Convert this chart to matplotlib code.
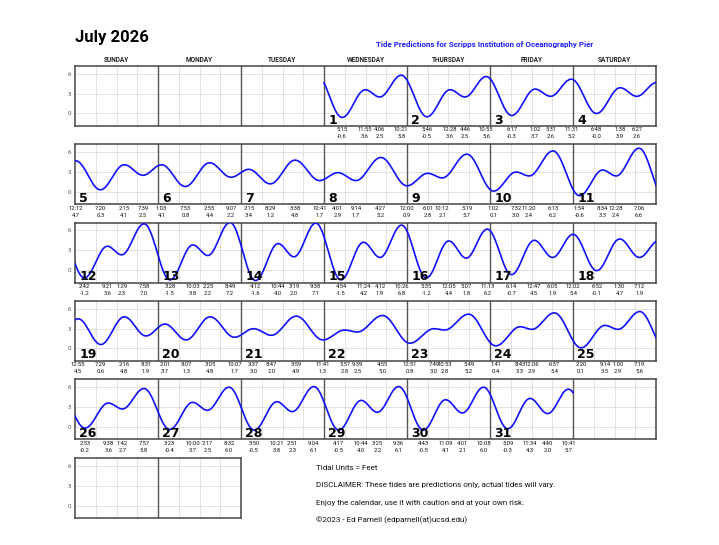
import numpy as np
import matplotlib
matplotlib.use("Agg")
import matplotlib.pyplot as plt
import matplotlib.transforms as mtransforms

# ---------------- data ----------------
month_title = "July 2026"
subtitle = "Tide Predictions for Scripps Institution of Oceanography Pier"
weekday_names = ["SUNDAY", "MONDAY", "TUESDAY", "WEDNESDAY", "THURSDAY", "FRIDAY", "SATURDAY"]
first_col = 3          # July 1 2026 is a Wednesday
n_days = 31
y_ticks = [0, 3, 6]

tide_day = [1, 1, 1, 1, 2, 2, 2, 2, 3, 3, 3, 3, 4, 4, 4,
            5, 5, 5, 5, 6, 6, 6, 6, 7, 7, 7, 7, 8, 8, 8,
            9, 9, 9, 9, 10, 10, 10, 10, 11, 11, 11, 11,
            12, 12, 12, 12, 13, 13, 13, 13, 14, 14, 14, 14,
            15, 15, 15, 15, 16, 16, 16, 16, 17, 17, 17,
            18, 18, 18, 18, 19, 19, 19, 19, 20, 20, 20, 20,
            21, 21, 21, 21, 22, 22, 22,
            23, 23, 23, 23, 24, 24, 24, 24, 25, 25, 25, 25,
            26, 26, 26, 26, 27, 27, 27, 27, 28, 28, 28, 28,
            29, 29, 29, 29, 30, 30, 30, 30, 31, 31, 31, 31]
tide_clock = ["05:15", "11:55", "16:06", "22:21", "05:46", "12:28", "16:46", "22:55",
              "06:17", "13:02", "17:31", "23:31", "06:48", "13:38", "18:27",
              "00:12", "07:20", "14:15", "19:39", "01:03", "07:53", "14:55", "21:07",
              "02:15", "08:29", "15:38", "22:41", "04:01", "09:14", "16:27",
              "00:00", "06:01", "10:12", "17:19", "01:02", "07:32", "11:20", "18:13",
              "01:54", "08:34", "12:28", "19:06",
              "02:42", "09:21", "13:29", "19:58", "03:28", "10:03", "14:25", "20:49",
              "04:12", "10:44", "15:19", "21:38",
              "04:54", "11:24", "16:12", "22:26", "05:35", "12:05", "17:07", "23:13",
              "06:14", "12:47", "18:05",
              "00:02", "06:52", "13:30", "19:12", "00:55", "07:29", "14:16", "20:31",
              "02:01", "08:07", "15:05", "22:07",
              "03:37", "08:47", "15:59", "23:41", "05:57", "09:39", "16:55",
              "00:51", "07:49", "10:53", "17:49", "01:41", "08:43", "12:06", "18:37",
              "02:20", "09:14", "13:00", "19:19",
              "02:53", "09:38", "13:42", "19:57", "03:23", "10:00", "14:17", "20:32",
              "03:50", "10:21", "14:51", "21:04",
              "04:17", "10:44", "15:25", "21:36", "04:43", "11:09", "16:01", "22:08",
              "05:09", "11:34", "16:40", "22:41"]
tide_height = [-0.6, 3.6, 2.5, 5.8, -0.5, 3.6, 2.5, 5.6, -0.3, 3.7, 2.6, 5.2, -0.0, 3.9, 2.6,
               4.7, 0.3, 4.1, 2.5, 4.1, 0.8, 4.4, 2.2, 3.4, 1.2, 4.8, 1.7, 2.9, 1.7, 5.2,
               0.9, 2.8, 2.1, 5.7, 0.1, 3.0, 2.4, 6.2, -0.6, 3.3, 2.4, 6.6,
               -1.2, 3.6, 2.3, 7.0, -1.5, 3.8, 2.2, 7.2, -1.6, 4.0, 2.0, 7.1,
               -1.5, 4.2, 1.9, 6.8, -1.2, 4.4, 1.8, 6.2, -0.7, 4.5, 1.9,
               5.4, -0.1, 4.7, 1.9, 4.5, 0.6, 4.8, 1.9, 3.7, 1.3, 4.8, 1.7,
               3.0, 2.0, 4.9, 1.3, 2.8, 2.5, 5.0,
               0.8, 3.0, 2.8, 5.2, 0.4, 3.3, 2.9, 5.4, 0.1, 3.5, 2.9, 5.6,
               -0.2, 3.6, 2.7, 5.8, -0.4, 3.7, 2.5, 6.0, -0.5, 3.8, 2.3, 6.1,
               -0.5, 4.0, 2.2, 6.1, -0.5, 4.1, 2.1, 6.0, -0.3, 4.3, 2.0, 5.7]

# extremes just outside the month (estimated from the curve ends)
edge_day = [0, 32]
edge_clock = ["21:48", "05:35"]
edge_height = [6.0, -0.1]

footer_lines = ["Tidal Units = Feet",
                "DISCLAIMER: These tides are predictions only, actual tides will vary.",
                "Enjoy the calendar, use it with caution and at your own risk.",
                "\u00a92023 - Ed Parnell (edparnell(at)ucsd.edu)"]

# ---------------- helpers ----------------
def to_hours(day, clock):
    hh, mm = clock.split(":")
    return (day - 1) * 24 + int(hh) + int(mm) / 60.0

def label_time(clock):
    hh, mm = clock.split(":")
    h = int(hh) % 12
    if h == 0:
        h = 12
    return f"{h}:{mm}"

ext_t = np.array([to_hours(edge_day[0], edge_clock[0])] +
                 [to_hours(d, c) for d, c in zip(tide_day, tide_clock)] +
                 [to_hours(edge_day[1], edge_clock[1])])
ext_h = np.array([edge_height[0]] + list(tide_height) + [edge_height[1]])
order = np.argsort(ext_t)
ext_t = ext_t[order]
ext_h = ext_h[order]

# cosine curve between successive high/low waters
t = np.linspace(0, n_days * 24, 6000)
idx = np.clip(np.searchsorted(ext_t, t) - 1, 0, len(ext_t) - 2)
t0, t1 = ext_t[idx], ext_t[idx + 1]
h0, h1 = ext_h[idx], ext_h[idx + 1]
frac = (t - t0) / (t1 - t0)
curve = h0 + (h1 - h0) * (1 - np.cos(np.pi * frac)) / 2

# ---------------- layout ----------------
W, H = 719, 545
fig = plt.figure(figsize=(W / 100, H / 100), dpi=100)
FONT = "Roboto"
plt.rcParams['font.family'] = [FONT, 'DejaVu Sans']

ax_left = 75
day_w = 83.0
ax_h = 60
row_tops = [66, 144.3, 222.5, 301, 379.3, 458.3]
ylim = (-1.9, 7.2)

fig.text(ax_left / W, 1 - 37.5 / H, month_title, fontsize=12.0, fontweight='bold',
         ha='left', va='center')
fig.text(485 / W, 1 - 44.5 / H, subtitle, fontsize=5.8, fontweight='bold',
         color='#1f1fff', ha='center', va='center')
for c, name in enumerate(weekday_names):
    fig.text((ax_left + day_w * (c + 0.5)) / W, 1 - 60 / H, name, fontsize=4.7,
             fontweight='bold', ha='center', va='center', color='#222222')

n_rows = 6
for r in range(n_rows):
    ncols = 7 if r < 5 else 2
    top = row_tops[r]
    ax = fig.add_axes([ax_left / W, 1 - (top + ax_h) / H, day_w * ncols / W, ax_h / H])
    span = 24 * ncols
    ax.set_xlim(0, span)
    ax.set_ylim(*ylim)
    for x in range(6, span, 6):
        if x % 24 == 0:
            ax.axvline(x, color='#555555', lw=1.0, zorder=2)
        else:
            ax.axvline(x, color='#dddddd', lw=0.6, zorder=1)
    for y in y_ticks:
        ax.axhline(y, color='#dddddd', lw=0.6, zorder=1)
    ax.set_xticks([])
    ax.set_yticks(y_ticks)
    ax.set_yticklabels([str(v) for v in y_ticks], fontsize=4.5, color='#555555')
    ax.tick_params(axis='y', length=0, pad=3)
    for s in ax.spines.values():
        s.set_color('#444444')
        s.set_linewidth(1.1)

    if r >= 5:
        continue
    offset = 24 * first_col - 168 * r
    ax.plot(t + offset, curve, color='#1010ff', lw=1.2, zorder=3, clip_on=True)

    trans = mtransforms.blended_transform_factory(ax.transData, ax.transAxes)
    # day numbers
    for c in range(7):
        d = 7 * r + c - first_col + 1
        if 1 <= d <= n_days:
            ax.annotate(str(d), xy=(24 * c, 0), xycoords=trans, xytext=(3.0, 1.8),
                        textcoords='offset points', fontsize=9.0, fontweight='bold',
                        family=['DejaVu Sans'], ha='left', va='baseline', zorder=5)
    # tide labels
    for d, c_, h in zip(tide_day, tide_clock, tide_height):
        x = to_hours(d, c_) + offset
        if 0 <= x <= 168:
            ax.annotate(label_time(c_), xy=(x, 0), xycoords=trans, xytext=(0, -2.8),
                        textcoords='offset points', fontsize=4.2, ha='center',
                        va='center', annotation_clip=False, color='#111111')
            ax.annotate(f"{h:.1f}", xy=(x, 0), xycoords=trans, xytext=(0, -7.9),
                        textcoords='offset points', fontsize=4.2, ha='center',
                        va='center', annotation_clip=False, color='#111111')

footer_y = [467.5, 485, 502.5, 520]
for line, y in zip(footer_lines, footer_y):
    fig.text(316 / W, 1 - y / H, line, fontsize=5.8, ha='left', va='center', color='#111111')

fig.savefig("out.png", dpi=100)
